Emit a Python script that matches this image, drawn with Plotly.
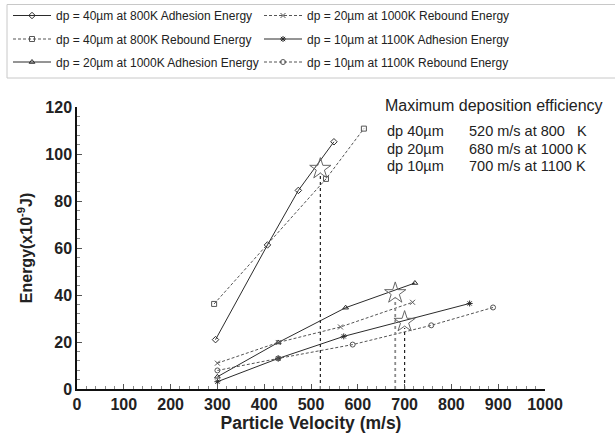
import plotly.graph_objects as go

# Particle velocity (m/s) and energy (x10^-9 J) per particle size / temperature
v_40_adh = [296, 407, 473, 549]
e_40_adh = [21.0, 61.3, 84.5, 105.2]
v_40_reb = [293, 532, 613]
e_40_reb = [36.2, 89.4, 110.8]
v_20_adh = [300, 430, 574, 722]
e_20_adh = [5.2, 19.8, 34.6, 45.1]
v_20_reb = [300, 430, 563, 717]
e_20_reb = [11.0, 19.8, 26.4, 36.9]
v_10_adh = [300, 430, 570, 839]
e_10_adh = [3.1, 13.0, 22.4, 36.4]
v_10_reb = [300, 430, 589, 757, 889]
e_10_reb = [7.9, 13.0, 18.9, 27.1, 34.7]

# Maximum deposition efficiency points
peak_velocity = [520, 680, 700]
peak_energy = [93.7, 40.8, 28.6]
peak_line_top = [92.0, 38.5, 26.0]
peak_sizes = ["dp 40µm", "dp 20µm", "dp 10µm"]
peak_temps = [800, 1000, 1100]

x_ticks = [0, 100, 200, 300, 400, 500, 600, 700, 800, 900, 1000]
y_ticks = [0, 20, 40, 60, 80, 100, 120]

FONT = "Liberation Sans, Arial, sans-serif"
SOLID = "#2b2b2b"
DASHED = "#555555"

series = [
    (v_40_adh, e_40_adh, "dp = 40µm at 800K Adhesion Energy", "diamond-open", "solid", SOLID),
    (v_40_reb, e_40_reb, "dp = 40µm at 800K Rebound Energy", "square-open", "3px,2px", DASHED),
    (v_20_adh, e_20_adh, "dp = 20µm at 1000K Adhesion Energy", "triangle-up-open", "solid", SOLID),
    (v_20_reb, e_20_reb, "dp = 20µm at 1000K Rebound Energy", "x-thin-open", "3px,2px", DASHED),
    (v_10_adh, e_10_adh, "dp = 10µm at 1100K Adhesion Energy", "asterisk-open", "solid", SOLID),
    (v_10_reb, e_10_reb, "dp = 10µm at 1100K Rebound Energy", "circle-open", "3px,2px", DASHED),
]

# legend slot positions (pixel left, pixel row centre)
legend_slots = [(8, 15.5), (8, 39), (8, 62), (259, 15.5), (259, 39), (259, 62)]

L, R, T, B = 77, 70, 107, 51
W, H = 615, 440
PW, PH = W - L - R, H - T - B


def px_to_paper(px, py):
    return (px - L) / PW, (H - B - py) / PH


fig = go.Figure()

for i, (vx, ey, name, sym, dash, col) in enumerate(series):
    lg = "legend" if i == 0 else f"legend{i + 1}"
    fig.add_trace(go.Scatter(
        x=vx, y=ey, name=name, mode="lines+markers",
        line=dict(color=col, width=1, dash=dash),
        marker=dict(symbol=sym, size=5, color=col, line=dict(width=1, color=col)),
        legend=lg,
    ))

# vertical guide lines down to the axis
line_styles = [("#222222", 1.2), ("#8a8a8a", 1.8), ("#222222", 1.2)]
for vx, top, (c, w) in zip(peak_velocity, peak_line_top, line_styles):
    fig.add_trace(go.Scatter(
        x=[vx, vx], y=[0, top], mode="lines", showlegend=False,
        line=dict(color=c, width=w, dash="dot"), hoverinfo="skip",
    ))

fig.add_trace(go.Scatter(
    x=peak_velocity, y=peak_energy, mode="markers", showlegend=False,
    marker=dict(symbol="star-open", size=16, color="#666666", line=dict(width=1, color="#666666")),
))

layout_legends = {}
for i, (lx, ly) in enumerate(legend_slots):
    key = "legend" if i == 0 else f"legend{i + 1}"
    xp, yp = px_to_paper(lx, ly)
    layout_legends[key] = dict(
        x=xp, y=yp, xanchor="left", yanchor="middle",
        bgcolor="rgba(0,0,0,0)", borderwidth=0,
        font=dict(family=FONT, size=12, color="#222"),
        itemwidth=38,
    )

# legend frame
fx0, fy0 = px_to_paper(7, 78)
fx1, fy1 = px_to_paper(640, 4.5)
fig.add_shape(type="rect", xref="paper", yref="paper", x0=fx0, x1=fx1, y0=fy0, y1=fy1,
              line=dict(color="#c8c8c8", width=1))

# annotation block
annotations = []
tx, ty = px_to_paper(383, 105)
annotations.append(dict(text="Maximum deposition efficiency", x=tx, y=ty, xref="paper", yref="paper",
                        xanchor="left", yanchor="middle", showarrow=False,
                        font=dict(family=FONT, size=16, color="#222")))
row_y = [131, 148.5, 166]
for size_lbl, vel, temp, ry in zip(peak_sizes, peak_velocity, peak_temps, row_y):
    ax, ay = px_to_paper(385, ry)
    annotations.append(dict(text=size_lbl, x=ax, y=ay, xref="paper", yref="paper",
                            xanchor="left", yanchor="middle", showarrow=False,
                            font=dict(family=FONT, size=14.5, color="#222")))
    sep = "\u00a0\u00a0\u00a0" if temp < 1000 else " "
    bx, by = px_to_paper(467, ry)
    annotations.append(dict(text=f"{vel} m/s at {temp}{sep}K", x=bx, y=by, xref="paper", yref="paper",
                            xanchor="left", yanchor="middle", showarrow=False,
                            font=dict(family=FONT, size=14.5, color="#222")))

fig.update_layout(
    width=W, height=H,
    margin=dict(l=L, r=R, t=T, b=B, autoexpand=False),
    paper_bgcolor="white", plot_bgcolor="white",
    annotations=annotations,
    **layout_legends,
)

fig.update_xaxes(
    range=[0, 1000], tickvals=x_ticks, ticktext=[str(t) for t in x_ticks],
    showline=True, linecolor="#111", linewidth=1.5, showgrid=False, zeroline=False,
    ticks="inside", ticklen=5, tickcolor="#555", tickwidth=1,
    minor=dict(dtick=20, ticks="inside", ticklen=3, tickcolor="#888"),
    tickfont=dict(family=FONT, size=16, color="#222", weight="bold"),
    title=dict(text="Particle Velocity (m/s)", standoff=5,
               font=dict(family=FONT, size=17.5, color="#222", weight="bold")),
)
fig.update_yaxes(
    range=[0, 120], tickvals=y_ticks, ticktext=[str(t) for t in y_ticks],
    showline=True, linecolor="#111", linewidth=1.5, showgrid=False, zeroline=False,
    ticks="inside", ticklen=5, tickcolor="#555", tickwidth=1,
    minor=dict(dtick=4, ticks="inside", ticklen=3, tickcolor="#888"),
    tickfont=dict(family=FONT, size=16, color="#222", weight="bold"),
    title=dict(text="Energy(x10<sup>-9</sup>J)", standoff=9,
               font=dict(family=FONT, size=16, color="#222", weight="bold")),
)

fig.write_html("out.html")
